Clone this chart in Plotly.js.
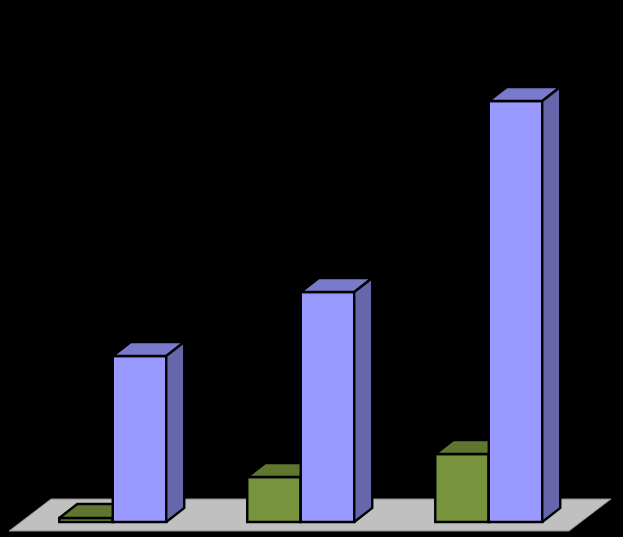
<!DOCTYPE html>
<html>
<head>
<meta charset="utf-8">
<script src="https://cdn.plot.ly/plotly-3.0.1.min.js"></script>
<style>html,body{margin:0;padding:0;background:#000}#c{width:623px;height:537px}</style>
</head>
<body>
<div id="c"></div>
<script>
// Values: bar heights (no scale is shown in the reference)
const groupCentres = [112.75, 300.75, 488.75];
const greenValues = [4, 45, 68];
const blueValues = [166, 230, 421];
// Styles and projection
const barWidth = 53.5;
const depthX = 18, depthY = 14;
const lineWidth = 2.4;
const green = {front: '#77933c', top: '#5f762f', side: '#4f6227'};
const blue = {front: '#9999ff', top: '#7a7acc', side: '#6666aa'};
const floorX = [9, 51, 611, 569, 9];
const floorY = [-9, 23, 23, -9, -9];

function face(xs, ys, color, ax) {
  return {type: 'scatter', mode: 'lines', x: xs, y: ys, fill: 'toself', fillcolor: color,
    line: {color: '#000', width: lineWidth, shape: 'linear'}, hoverinfo: 'skip', showlegend: false,
    xaxis: 'x' + ax, yaxis: 'y' + ax};
}
function series(values, offset, c, ax) {
  const xs = groupCentres.map(g => g + offset);
  const traces = [{type: 'bar', x: xs, y: values, width: barWidth, marker: {color: c.front, line: {color: '#000', width: lineWidth}},
    hoverinfo: 'skip', showlegend: false, xaxis: 'x' + ax, yaxis: 'y' + ax}];
  values.forEach((v, i) => {
    const l = xs[i] - barWidth / 2, r = xs[i] + barWidth / 2;
    traces.push(face([l, l + depthX, r + depthX, r, l], [v, v + depthY, v + depthY, v, v], c.top, ax));
    traces.push(face([r, r + depthX, r + depthX, r, r], [0, depthY, v + depthY, v, 0], c.side, ax));
  });
  return traces;
}
const floor = {type: 'scatter', mode: 'lines', x: floorX, y: floorY, fill: 'toself', fillcolor: '#c0c0c0',
  line: {color: '#8c8c8c', width: 1}, hoverinfo: 'skip', showlegend: false, xaxis: 'x', yaxis: 'y'};

const hiddenX = {range: [0, 623], visible: false, fixedrange: true};
const hiddenY = {range: [-15, 522], visible: false, fixedrange: true};
const layout = {
  width: 623, height: 537, margin: {l: 0, r: 0, t: 0, b: 0},
  paper_bgcolor: '#000', plot_bgcolor: '#000', showlegend: false, bargap: 0,
  xaxis: hiddenX, yaxis: hiddenY,
  xaxis2: Object.assign({overlaying: 'x'}, hiddenX), yaxis2: Object.assign({overlaying: 'y'}, hiddenY),
  xaxis3: Object.assign({overlaying: 'x'}, hiddenX), yaxis3: Object.assign({overlaying: 'y'}, hiddenY)
};
const data = [floor].concat(series(greenValues, -barWidth / 2, green, '2'), series(blueValues, barWidth / 2, blue, '3'));
Plotly.newPlot('c', data, layout, {displayModeBar: false, staticPlot: true});
</script>
</body>
</html>
